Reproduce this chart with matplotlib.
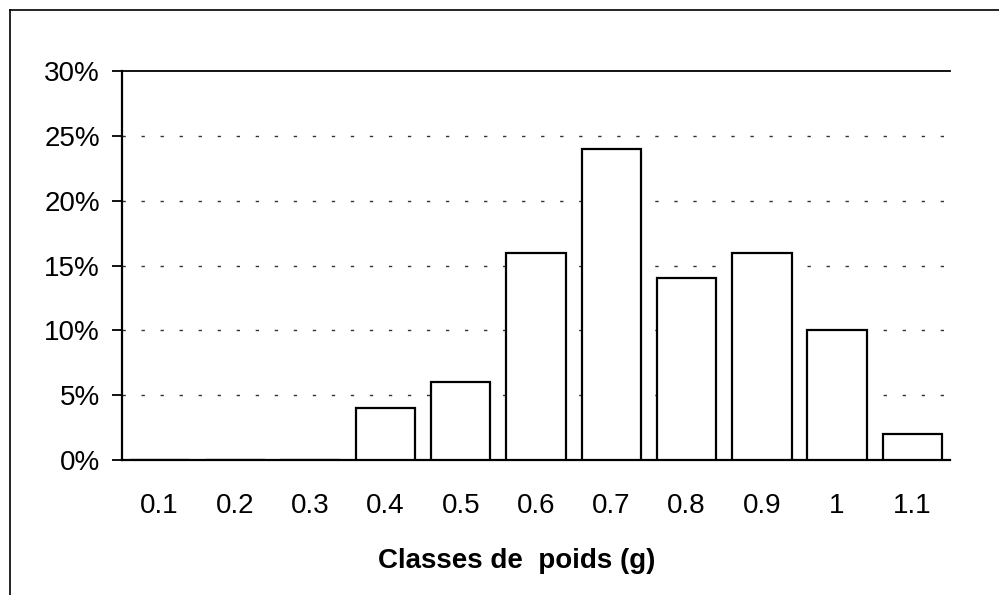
import matplotlib.pyplot as plt
from matplotlib.lines import Line2D
from matplotlib.ticker import FuncFormatter

# weight classes (g) and share of individuals (%)
classes = ['0.1', '0.2', '0.3', '0.4', '0.5', '0.6', '0.7', '0.8', '0.9', '1', '1.1']
percent = [0, 0, 0, 4, 6, 16, 24, 14, 16, 10, 2]
yticks = [0, 5, 10, 15, 20, 25, 30]

plt.rcParams['font.family'] = ['Liberation Sans', 'DejaVu Sans']
plt.rcParams['lines.scale_dashes'] = False

fig = plt.figure(figsize=(9.99, 5.95), dpi=100)
ax = fig.add_axes([122 / 999, 1 - 460 / 595, (950 - 122) / 999, (460 - 71) / 595])

x = range(len(classes))
ax.bar(x, percent, width=0.79, color='white', edgecolor='black', linewidth=1.6, zorder=3)

ax.set_xlim(-0.5, len(classes) - 0.5)
ax.set_ylim(0, 30)
ax.set_yticks(yticks)
ax.yaxis.set_major_formatter(FuncFormatter(lambda v, p: f'{v:.0f}%'))
ax.set_xticks(list(x))
ax.set_xticklabels(classes)

ax.tick_params(axis='y', direction='out', length=7, width=1.3, labelsize=20, pad=9)
ax.tick_params(axis='x', length=0, labelsize=20, pad=24)

# dotted grid
for v in yticks[1:-1]:
    ax.axhline(v, color='#333333', linewidth=1.0, linestyle=(0, (2.4, 11.3)), zorder=1)

ax.spines['right'].set_visible(False)
ax.spines['top'].set_linewidth(1.3)
ax.spines['left'].set_linewidth(1.6)
ax.spines['bottom'].set_linewidth(1.6)

fig.text(517 / 999, 1 - 561 / 595, 'Classes de  poids (g)', ha='center', va='center',
         fontsize=20, fontweight='bold')

# outer frame (top and left edges visible)
fig.add_artist(Line2D([10 / 999, 1], [1 - 10 / 595, 1 - 10 / 595], color='black', linewidth=1.2,
                      transform=fig.transFigure))
fig.add_artist(Line2D([10 / 999, 10 / 999], [0, 1 - 10 / 595], color='black', linewidth=1.2,
                      transform=fig.transFigure))

fig.savefig('out.png', dpi=100)
